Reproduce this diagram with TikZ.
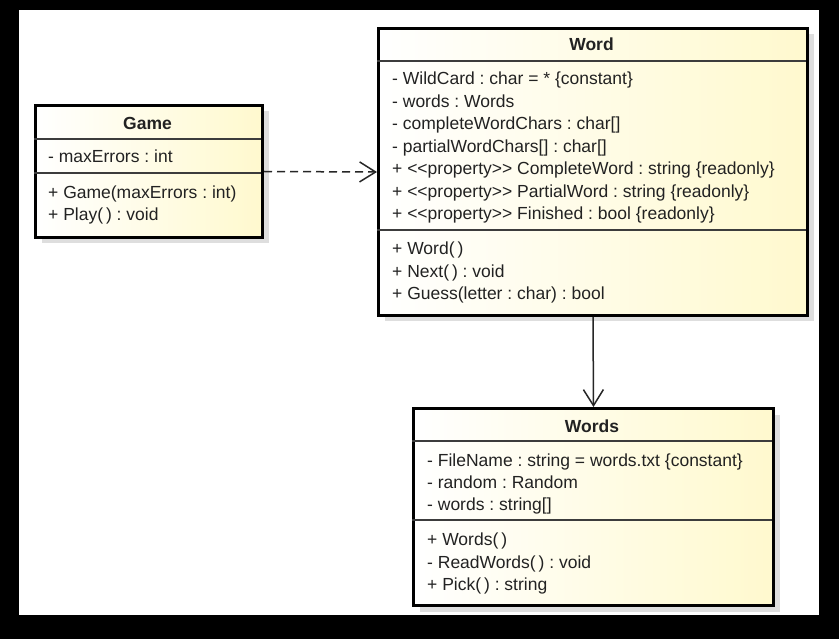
\documentclass[tikz,border=0pt]{standalone}
\usepackage{fontspec}
\setmainfont{Liberation Sans}
\usetikzlibrary{arrows.meta,shadows}
\definecolor{uyellow}{RGB}{255,249,206}
\definecolor{ushadow}{RGB}{222,222,222}
\definecolor{utext}{RGB}{34,34,34}
\definecolor{uline}{RGB}{60,60,60}
\frenchspacing
\begin{document}
\begin{tikzpicture}[x=1pt,y=-1pt,
  classbox/.style={draw=black, line width=3pt, left color=white, right color=uyellow,
    drop shadow={shadow xshift=6pt, shadow yshift=-6pt, fill=ushadow, opacity=1},
    anchor=north west, inner sep=0pt},
  divider/.style={draw=uline, line width=1.5pt},
  classtitle/.style={font=\fontsize{17.5}{21}\selectfont\bfseries, text=utext, anchor=base, inner sep=0pt},
  member/.style={font=\fontsize{17.5}{21}\selectfont, text=utext, anchor=base west, inner sep=0pt},
  conn/.style={line width=1.5pt, draw=black!85,
    -{Straight Barb[length=16pt,width=20pt,line width=1.5pt]}},
  dep/.style={conn, dash pattern=on 8pt off 5pt}]
\useasboundingbox (0,0) rectangle (839,639);
\fill[black] (0,0) rectangle (839,639);
\fill[white] (19,10) rectangle (819,615);

% Game
\node[classbox, minimum width=227pt, minimum height=132pt] (game) at (34,104) {};
\draw[divider] (34,139) -- (261,139);
\draw[divider] (34,173) -- (261,173);
\node[classtitle] (gt) at (147.5,130) {Game};
\node[member] (g1) at (48,163) {- maxErrors : int};
\node[member] (g2) at (48,199) {+ Game(maxErrors : int)};
\node[member] (g3) at (48,221) {+ Play(\,) : void};

% Word
\node[classbox, minimum width=429pt, minimum height=287pt] (word) at (377,27) {};
\draw[divider] (377,61) -- (806,61);
\draw[divider] (377,230) -- (806,230);
\node[classtitle] (wt) at (591.5,51) {Word};
\node[member] (w1) at (392,85) {- WildCard : char = * \{constant\}};
\node[member] (w2) at (392,107.5) {- words : Words};
\node[member] (w3) at (392,130) {- completeWordChars : char[]};
\node[member] (w4) at (392,152.5) {- partialWordChars[] : char[]};
\node[member] (w5) at (392,175) {+ <\kern0pt<property>\kern0pt> CompleteWord : string \{readonly\}};
\node[member] (w6) at (392,197.5) {+ <\kern0pt<property>\kern0pt> PartialWord : string \{readonly\}};
\node[member] (w7) at (392,220) {+ <\kern0pt<property>\kern0pt> Finished : bool \{readonly\}};
\node[member] (w8) at (392,255) {+ Word(\,)};
\node[member] (w9) at (392,277.5) {+ Next(\,) : void};
\node[member] (w10) at (392,300) {+ Guess(letter : char) : bool};

% Words
\node[classbox, minimum width=360pt, minimum height=197pt] (words) at (412,407) {};
\draw[divider] (412,441) -- (772,441);
\draw[divider] (412,520) -- (772,520);
\node[classtitle] (st) at (592,432) {Words};
\node[member] (s1) at (427,466) {- FileName : string = words.txt \{constant\}};
\node[member] (s2) at (427,488) {- random : Random};
\node[member] (s3) at (427,510) {- words : string[]};
\node[member] (s4) at (427,545) {+ Words(\,)};
\node[member] (s5) at (427,568) {- ReadWords(\,) : void};
\node[member] (s6) at (427,590) {+ Pick(\,) : string};

% connectors
\draw[dep] (game.east) -- (word.west);
\draw[conn] (word.south) -- (words.north);
\end{tikzpicture}
\end{document}
